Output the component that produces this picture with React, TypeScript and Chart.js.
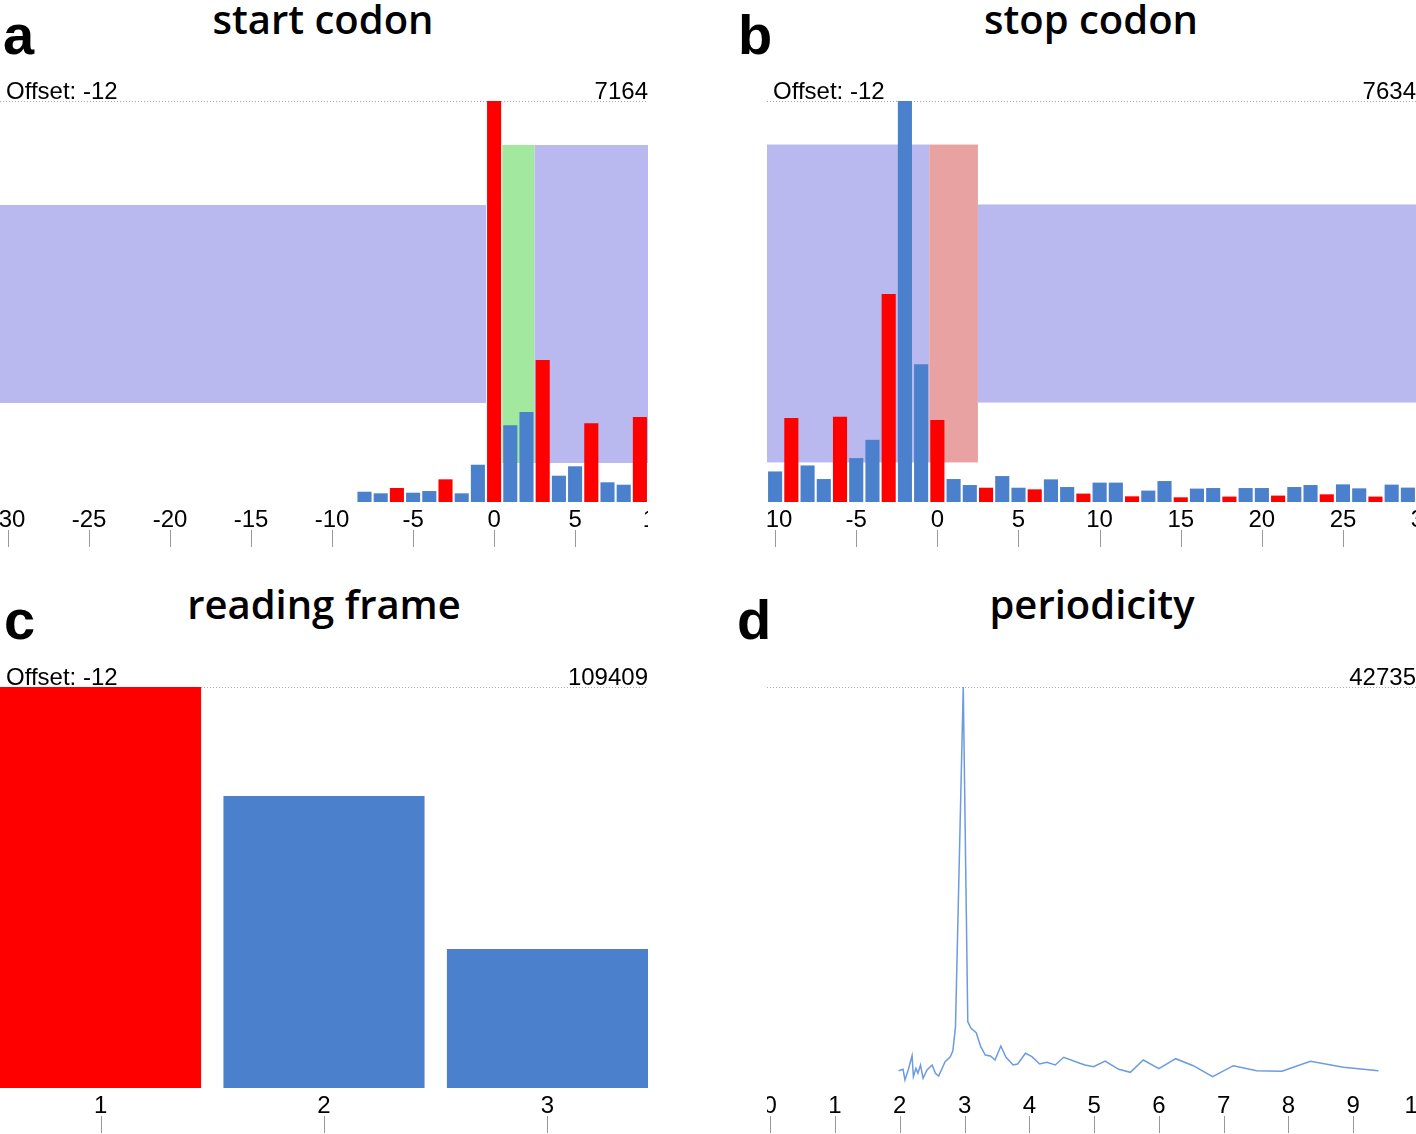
import React, { useEffect, useRef } from 'react';
import { Chart, registerables } from 'chart.js';
Chart.register(...registerables);

// ---------- data ----------
const offsetLabel = 'Offset: -12';

const startPositions = [-8, -7, -6, -5, -4, -3, -2, -1, 0, 1, 2, 3, 4, 5, 6, 7, 8, 9];
const startValues = [184, 155, 250, 166, 196, 405, 155, 666, 7164, 1370, 1608, 2537, 470, 638, 1406, 352, 309, 1519];
const startMax = 7164;
const startTicks = [-30, -25, -20, -15, -10, -5, 0, 5, 10];
const startRange = [-30.5, 9.5];
// shaded regions: [xFrom, xTo, yFrom, yTo]
const startRegionUpstream = [-30.5, -0.5, 1769, 5306];
const startRegionCodon = [0.5, 2.5, 697, 6378];
const startRegionDownstream = [2.5, 9.5, 697, 6378];

const stopPositions = [-10, -9, -8, -7, -6, -5, -4, -3, -2, -1, 0, 1, 2, 3, 4, 5, 6, 7, 8, 9, 10, 11, 12, 13, 14, 15, 16, 17, 18, 19, 20, 21, 22, 23, 24, 25, 26, 27, 28, 29];
const stopValues = [582, 1597, 696, 437, 1621, 836, 1184, 3960, 7634, 2623, 1559, 437, 323, 272, 494, 272, 241, 431, 285, 160, 369, 369, 108, 217, 399, 89, 255, 266, 103, 266, 266, 122, 285, 323, 146, 336, 260, 103, 331, 274];
const stopMax = 7634;
const stopTicks = [-10, -5, 0, 5, 10, 15, 20, 25, 30];
const stopRange = [-10.5, 29.5];
const stopRegionUpstream = [-10.5, -0.5, 753, 6805];
const stopRegionCodon = [-0.5, 2.5, 753, 6805];
const stopRegionDownstream = [2.5, 29.5, 1893, 5665];

const frames = [1, 2, 3];
const frameValues = [109409, 79668, 37925];
const frameMax = 109409;
const frameTicks = [1, 2, 3];
const frameRange = [0.55, 3.45];

const periodX = [1.98, 2.05, 2.08, 2.13, 2.19, 2.21, 2.25, 2.28, 2.32, 2.36, 2.42, 2.5, 2.55, 2.6, 2.7, 2.78, 2.82, 2.86, 2.98, 3.05, 3.1, 3.18, 3.25, 3.32, 3.4, 3.47, 3.56, 3.64, 3.75, 3.82, 3.94, 4.04, 4.16, 4.27, 4.4, 4.53, 4.78, 4.86, 4.99, 5.17, 5.38, 5.56, 5.76, 6.0, 6.26, 6.53, 6.83, 7.15, 7.51, 7.9, 8.34, 8.85, 9.39];
const periodY = [1844, 1993, 853, 1918, 3442, 1204, 2099, 1567, 2451, 1034, 1918, 2451, 1567, 1279, 2803, 3336, 3975, 6533, 42735, 7066, 6362, 5893, 4401, 3517, 3410, 2984, 4476, 3272, 2451, 2558, 3698, 3336, 2558, 2739, 2451, 3272, 2632, 2451, 2270, 2877, 1993, 1673, 2984, 2057, 3122, 2376, 1204, 2376, 1844, 1780, 2845, 2206, 1844];
const periodMax = 42735;
const periodTicks = [0, 1, 2, 3, 4, 5, 6, 7, 8, 9, 10];
const periodRange = [-0.05, 9.97];

// ---------- styles ----------
const RED = '#ff0000';
const BLUE = '#4b80cc';
const LAVENDER = '#b9b9ef';
const GREEN = '#a2e89f';
const SALMON = '#e8a2a2';
const LINE = '#6c9be0';
const SANS = '"Liberation Sans", Arial, Helvetica, sans-serif';
const PAD = 40;
const AXIS_H = 50;

const frameColor = (p: number) => (((p % 3) + 3) % 3 === 0 ? RED : BLUE);

function decorPlugin(o: { regions?: { r: number[]; color: string }[]; maxLabel: string; offset?: string; ticks: number[] }) {
  return {
    id: 'decor',
    beforeDatasetsDraw(chart: any) {
      const { ctx, chartArea, scales } = chart;
      const x = scales.x, y = scales.y;
      ctx.save();
      (o.regions || []).forEach((g) => {
        const x0 = x.getPixelForValue(g.r[0]);
        const x1 = x.getPixelForValue(g.r[1]);
        const y0 = y.getPixelForValue(g.r[2]);
        const y1 = y.getPixelForValue(g.r[3]);
        ctx.fillStyle = g.color;
        ctx.fillRect(x0, y1, x1 - x0, y0 - y1);
      });
      // dotted max line
      ctx.strokeStyle = '#aaa';
      ctx.lineWidth = 1;
      ctx.setLineDash([1, 2]);
      ctx.beginPath();
      ctx.moveTo(chartArea.left, Math.round(chartArea.top) + 0.5);
      ctx.lineTo(chartArea.right, Math.round(chartArea.top) + 0.5);
      ctx.stroke();
      ctx.restore();
    },
    afterDraw(chart: any) {
      const { ctx, chartArea, scales } = chart;
      const x = scales.x;
      ctx.save();
      ctx.fillStyle = '#000';
      ctx.font = `24px ${SANS}`;
      ctx.textBaseline = 'alphabetic';
      if (o.offset) {
        ctx.textAlign = 'left';
        ctx.fillText(o.offset, chartArea.left + 6, chartArea.top - 2);
      }
      ctx.textAlign = 'right';
      ctx.fillText(o.maxLabel, chartArea.right, chartArea.top - 2);
      // tick marks below labels
      ctx.strokeStyle = '#999';
      ctx.lineWidth = 1;
      ctx.beginPath();
      o.ticks.forEach((v) => {
        const px = Math.round(x.getPixelForValue(v)) + 0.5;
        ctx.moveTo(px, chartArea.bottom + 28);
        ctx.lineTo(px, chartArea.bottom + 45);
      });
      ctx.stroke();
      ctx.restore();
    },
  };
}

function xScale(range: number[], ticks: number[]) {
  return {
    type: 'linear',
    min: range[0],
    max: range[1],
    offset: false,
    bounds: 'data',
    afterBuildTicks: (s: any) => {
      s.ticks = ticks.map((v) => ({ value: v }));
    },
    afterFit: (s: any) => {
      s.height = AXIS_H;
    },
    grid: { display: false, drawTicks: false, offset: false },
    border: { display: false },
    ticks: {
      autoSkip: false,
      maxRotation: 0,
      minRotation: 0,
      padding: 4,
      color: '#000',
      font: { family: SANS, size: 24 },
      callback: (v: any) => String(v),
    },
  };
}

function yScale(max: number) {
  return { type: 'linear', display: false, min: 0, max };
}

function baseOptions(range: number[], ticks: number[], max: number) {
  return {
    responsive: false,
    maintainAspectRatio: false,
    devicePixelRatio: 1,
    animation: false,
    layout: { padding: { left: PAD, right: PAD, top: PAD, bottom: 0 } },
    plugins: { legend: { display: false }, tooltip: { enabled: false }, title: { display: false } },
    scales: { x: xScale(range, ticks), y: yScale(max) },
  };
}

function Panel({ left, top, width, height, makeConfig }: any) {
  const ref = useRef<HTMLCanvasElement>(null);
  useEffect(() => {
    const chart = new Chart(ref.current as HTMLCanvasElement, makeConfig());
    return () => chart.destroy();
  }, []);
  const h = height + PAD + AXIS_H;
  return (
    <div style={{ position: 'absolute', left, top: top - PAD, width, height: h, overflow: 'hidden' }}>
      <canvas ref={ref} width={width + 2 * PAD} height={h} style={{ position: 'absolute', left: -PAD, top: 0 }} />
    </div>
  );
}

const startConfig = () => ({
  type: 'bar',
  data: {
    datasets: [
      {
        data: startPositions.map((p, i) => ({ x: p, y: startValues[i] })),
        backgroundColor: startPositions.map(frameColor),
        barPercentage: 0.87,
        categoryPercentage: 1,
        borderWidth: 0,
      },
    ],
  },
  options: baseOptions(startRange, startTicks, startMax),
  plugins: [
    decorPlugin({
      regions: [
        { r: startRegionUpstream, color: LAVENDER },
        { r: startRegionCodon, color: GREEN },
        { r: startRegionDownstream, color: LAVENDER },
      ],
      maxLabel: String(startMax),
      offset: offsetLabel,
      ticks: startTicks,
    }),
  ],
});

const stopConfig = () => ({
  type: 'bar',
  data: {
    datasets: [
      {
        data: stopPositions.map((p, i) => ({ x: p, y: stopValues[i] })),
        backgroundColor: stopPositions.map(frameColor),
        barPercentage: 0.87,
        categoryPercentage: 1,
        borderWidth: 0,
      },
    ],
  },
  options: baseOptions(stopRange, stopTicks, stopMax),
  plugins: [
    decorPlugin({
      regions: [
        { r: stopRegionUpstream, color: LAVENDER },
        { r: stopRegionCodon, color: SALMON },
        { r: stopRegionDownstream, color: LAVENDER },
      ],
      maxLabel: String(stopMax),
      offset: offsetLabel,
      ticks: stopTicks,
    }),
  ],
});

const frameConfig = () => ({
  type: 'bar',
  data: {
    datasets: [
      {
        data: frames.map((f, i) => ({ x: f, y: frameValues[i] })),
        backgroundColor: frames.map((f) => (f === 1 ? RED : BLUE)),
        barPercentage: 0.9,
        categoryPercentage: 1,
        borderWidth: 0,
      },
    ],
  },
  options: baseOptions(frameRange, frameTicks, frameMax),
  plugins: [decorPlugin({ maxLabel: String(frameMax), offset: offsetLabel, ticks: frameTicks })],
});

const periodConfig = () => ({
  type: 'line',
  data: {
    datasets: [
      {
        data: periodX.map((x, i) => ({ x, y: periodY[i] })),
        borderColor: LINE,
        borderWidth: 1.5,
        pointRadius: 0,
        tension: 0,
        fill: false,
      },
    ],
  },
  options: baseOptions(periodRange, periodTicks, periodMax),
  plugins: [decorPlugin({ maxLabel: String(periodMax), ticks: periodTicks })],
});

const letterStyle: any = {
  position: 'absolute',
  fontFamily: SANS,
  fontWeight: 'bold',
  fontSize: 56,
  lineHeight: '56px',
  color: '#000',
  margin: 0,
};
const titleStyle: any = {
  position: 'absolute',
  width: 500,
  textAlign: 'center',
  fontFamily: '"Open Sans", sans-serif',
  fontWeight: 600,
  fontSize: 40,
  lineHeight: '40px',
  color: '#000',
  whiteSpace: 'nowrap',
};

export default function App() {
  return (
    <div style={{ position: 'absolute', left: 0, top: 0, width: 1416, height: 1134, overflow: 'hidden', background: '#fff' }}>
      <div style={{ ...letterStyle, left: 3, top: 7 }}>a</div>
      <div style={{ ...letterStyle, left: 738, top: 7 }}>b</div>
      <div style={{ ...letterStyle, left: 4, top: 592 }}>c</div>
      <div style={{ ...letterStyle, left: 737, top: 592 }}>d</div>
      <div style={{ ...titleStyle, left: 323 - 250, top: -1 }}>start codon</div>
      <div style={{ ...titleStyle, left: 1091 - 250, top: -1 }}>stop codon</div>
      <div style={{ ...titleStyle, left: 324 - 250, top: 584 }}>reading frame</div>
      <div style={{ ...titleStyle, left: 1092 - 250, top: 584 }}>periodicity</div>
      <Panel left={0} top={101} width={648} height={401} makeConfig={startConfig} />
      <Panel left={767} top={101} width={649} height={401} makeConfig={stopConfig} />
      <Panel left={0} top={687} width={648} height={401} makeConfig={frameConfig} />
      <Panel left={767} top={687} width={649} height={401} makeConfig={periodConfig} />
    </div>
  );
}
